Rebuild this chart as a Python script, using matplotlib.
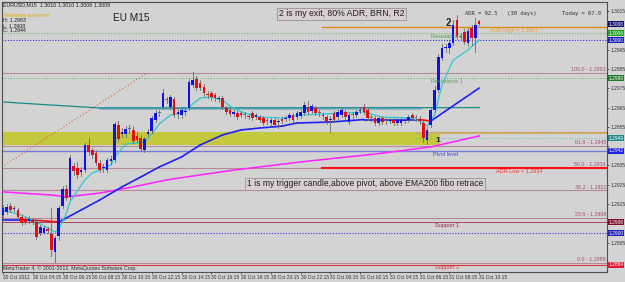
import matplotlib
matplotlib.use("Agg")
import matplotlib.pyplot as plt
from matplotlib.patches import Rectangle

# ---------------- data (EURUSD M15 candles) ----------------
open_ = [1.29093,1.29109,1.29140,1.29124,1.29119,1.29083,1.29073,1.29062,1.29067,1.29057,
         1.29000,1.29000,1.29021,1.28995,1.28902,1.28985,1.29140,1.29228,1.29187,1.29347,
         1.29337,1.29316,1.29326,1.29456,1.29430,1.29415,1.29363,1.29337,1.29326,1.29373,
         1.29378,1.29560,1.29513,1.29513,1.29539,1.29534,1.29503,1.29492,1.29430,1.29513,
         1.29528,1.29585,1.29622,1.29653,1.29689,1.29653,1.29694,1.29616,1.29611,1.29627,
         1.29648,1.29767,1.29798,1.29777,1.29756,1.29720,1.29725,1.29715,1.29694,1.29699,
         1.29648,1.29637,1.29616,1.29622,1.29622,1.29611,1.29606,1.29622,1.29601,1.29601,
         1.29596,1.29580,1.29570,1.29585,1.29575,1.29591,1.29591,1.29596,1.29611,1.29601,
         1.29606,1.29622,1.29653,1.29632,1.29648,1.29622,1.29611,1.29601,1.29585,1.29622,
         1.29601,1.29611,1.29627,1.29575,1.29611,1.29611,1.29632,1.29653,1.29637,1.29596,
         1.29596,1.29570,1.29596,1.29580,1.29580,1.29585,1.29570,1.29570,1.29580,1.29585,
         1.29611,1.29596,1.29591,1.29570,1.29482,1.29560,1.29637,1.29741,1.29907,1.29958,
         1.29958,1.29984,1.30103,1.30015,1.30041,1.29984,1.30062,1.30010,1.30100]
high = [1.29145,1.29150,1.29155,1.29140,1.29130,1.29093,1.29083,1.29088,1.29078,1.29067,
        1.29042,1.29036,1.29031,1.29130,1.28985,1.29140,1.29244,1.29249,1.29404,1.29363,
        1.29368,1.29342,1.29466,1.29492,1.29440,1.29430,1.29378,1.29358,1.29389,1.29399,
        1.29575,1.29580,1.29544,1.29554,1.29560,1.29554,1.29523,1.29508,1.29497,1.29539,
        1.29606,1.29637,1.29637,1.29746,1.29705,1.29715,1.29705,1.29637,1.29653,1.29648,
        1.29798,1.29834,1.29813,1.29793,1.29772,1.29736,1.29736,1.29725,1.29710,1.29710,
        1.29658,1.29648,1.29637,1.29632,1.29632,1.29627,1.29616,1.29632,1.29622,1.29611,
        1.29606,1.29596,1.29596,1.29596,1.29591,1.29601,1.29606,1.29622,1.29622,1.29632,
        1.29637,1.29679,1.29684,1.29668,1.29658,1.29637,1.29622,1.29611,1.29606,1.29632,
        1.29637,1.29648,1.29637,1.29622,1.29627,1.29637,1.29653,1.29668,1.29648,1.29611,
        1.29606,1.29606,1.29606,1.29596,1.29596,1.29596,1.29596,1.29596,1.29596,1.29611,
        1.29622,1.29611,1.29606,1.29585,1.29549,1.29653,1.29762,1.29927,1.29979,1.29979,
        1.30000,1.30103,1.30129,1.30036,1.30057,1.30062,1.30078,1.30114,1.30102]
low = [1.29083,1.29099,1.29109,1.29114,1.29073,1.29042,1.29047,1.29052,1.29047,1.28969,
       1.28990,1.28995,1.29000,1.28881,1.28850,1.28964,1.29130,1.29171,1.29176,1.29301,
       1.29285,1.29295,1.29316,1.29404,1.29389,1.29352,1.29316,1.29316,1.29316,1.29358,
       1.29368,1.29477,1.29497,1.29497,1.29518,1.29466,1.29471,1.29425,1.29420,1.29503,
       1.29518,1.29575,1.29606,1.29642,1.29673,1.29642,1.29601,1.29596,1.29596,1.29611,
       1.29637,1.29756,1.29741,1.29741,1.29710,1.29699,1.29689,1.29684,1.29679,1.29642,
       1.29616,1.29606,1.29606,1.29591,1.29601,1.29596,1.29591,1.29585,1.29591,1.29575,
       1.29560,1.29565,1.29560,1.29549,1.29544,1.29570,1.29580,1.29585,1.29575,1.29591,
       1.29596,1.29611,1.29616,1.29622,1.29611,1.29606,1.29591,1.29565,1.29523,1.29575,
       1.29591,1.29601,1.29591,1.29565,1.29596,1.29601,1.29622,1.29616,1.29585,1.29580,
       1.29560,1.29560,1.29565,1.29565,1.29570,1.29560,1.29560,1.29560,1.29570,1.29575,
       1.29585,1.29580,1.29565,1.29471,1.29461,1.29549,1.29627,1.29730,1.29896,1.29938,
       1.29932,1.29974,1.30005,1.30000,1.29979,1.29969,1.29974,1.29938,1.30080]
close = [1.29130,1.29135,1.29119,1.29130,1.29083,1.29052,1.29057,1.29073,1.29057,1.28979,
         1.29031,1.29026,1.29010,1.28912,1.28974,1.29130,1.29228,1.29181,1.29389,1.29321,
         1.29301,1.29326,1.29456,1.29420,1.29404,1.29363,1.29326,1.29342,1.29378,1.29383,
         1.29565,1.29487,1.29523,1.29539,1.29539,1.29477,1.29482,1.29435,1.29487,1.29523,
         1.29596,1.29622,1.29622,1.29725,1.29689,1.29705,1.29611,1.29627,1.29637,1.29632,
         1.29782,1.29793,1.29751,1.29751,1.29725,1.29715,1.29705,1.29699,1.29699,1.29653,
         1.29627,1.29616,1.29627,1.29601,1.29611,1.29611,1.29601,1.29596,1.29611,1.29585,
         1.29570,1.29580,1.29585,1.29560,1.29580,1.29580,1.29596,1.29611,1.29585,1.29622,
         1.29627,1.29663,1.29627,1.29658,1.29622,1.29622,1.29606,1.29575,1.29591,1.29585,
         1.29627,1.29637,1.29601,1.29611,1.29611,1.29627,1.29637,1.29627,1.29596,1.29596,
         1.29570,1.29596,1.29575,1.29580,1.29585,1.29570,1.29585,1.29585,1.29585,1.29601,
         1.29596,1.29596,1.29580,1.29492,1.29534,1.29637,1.29741,1.29912,1.29958,1.29964,
         1.29984,1.30078,1.30015,1.30015,1.29989,1.30046,1.30010,1.30078,1.30083]

# indicator lines, read at sample bars
fast_bars = [0,5,10,14,15,17,18,20,22,24,26,29,30,33,38,40,42,45,48,50,53,56,59,61,64,69,75,80,91,97,102,110,113,114,116,117,118,121,125,128]
fast_vals = [1.29119,1.29093,1.29047,1.29005,1.29021,1.29099,1.29161,1.29218,1.29275,1.29311,
             1.29326,1.29352,1.29394,1.29461,1.29471,1.29513,1.29565,1.29611,1.29622,1.29653,
             1.29699,1.29705,1.29689,1.29658,1.29627,1.29601,1.29596,1.29611,1.29622,1.29627,
             1.29601,1.29596,1.29570,1.29554,1.29611,1.29689,1.29767,1.29896,1.29948,1.30000]
ema_bars = [0,8,15,26,32,37,42,48,53,59,64,69,75,79,88,97,106,112,115,128]
ema_vals = [1.29067,1.29067,1.29057,1.29171,1.29239,1.29290,1.29342,1.29394,1.29456,1.29508,
            1.29534,1.29544,1.29554,1.29570,1.29575,1.29588,1.29588,1.29588,1.29580,1.29751]
ema200_bars = [0,13,17,26,35,44,53,62,71,80,90,100,115,128]
ema200_vals = [1.29213,1.29197,1.29187,1.29207,1.29239,1.29275,1.29301,1.29326,1.29347,1.29368,
               1.29389,1.29409,1.29446,1.29503]
slow_bars = [0,13,26,60,128]
slow_vals = [1.29679,1.29663,1.29648,1.29648,1.29650]

price_ticks = [1.3015,1.3005,1.2995,1.2985,1.2975,1.2965,1.2955,1.2945,1.2935,1.2925,1.2915,1.2905,1.2895,1.2885]
hidden_ticks = [1.3005, 1.2945, 1.2905, 1.2885]   # covered by the coloured price boxes
time_bars = [0,8,16,24,32,40,48,56,64,72,80,88,96,104,112,120,128]
time_labels = ["30 Oct 2012","30 Oct 04:15","30 Oct 06:15","30 Oct 08:15","30 Oct 10:15",
               "30 Oct 12:15","30 Oct 14:15","30 Oct 16:15","30 Oct 18:15","30 Oct 20:15",
               "30 Oct 22:15","31 Oct 00:15","31 Oct 02:15","31 Oct 04:15","31 Oct 06:15",
               "31 Oct 08:15","31 Oct 10:15"]

adr_high, adr_low = 1.30067, 1.29337
r2, r1, pivot, s1, s2 = 1.30036, 1.29803, 1.29425, 1.29057, 1.28835
brn_levels = [1.3000, 1.2900]
fib_pct = [100.0, 61.8, 50.0, 38.2, 23.6, 0.0]
fib_hi, fib_lo = 1.29829, 1.28845
fib_anchor_bars = [-40.3, 38.7]
zone_lo, zone_hi, zone_end = 1.29456, 1.29525, 117.5
zone_line, zone_dot = 1.29518, 1.29492
trend_level, trend_bars = 1.29650, [26, 112]

# ---------------- styling ----------------
BG = "#d3d3d3"
BULL, BEAR = "#1010e8", "#e01010"
MAUVE = "#b68a96"
FONT = "Liberation Sans"
plt.rcParams["font.family"] = [FONT, "DejaVu Sans"]

fig = plt.figure(figsize=(6.25, 2.82), dpi=100)
fig.patch.set_facecolor(BG)
ax = fig.add_axes([2/625, 10/282, 605/625, 270/282])
ax.set_facecolor(BG)
px = 3.72
ax.set_xlim(-1/px, 604/px)
y_top, y_bot = 1.30197, 1.28798
ax.set_ylim(y_bot, y_top)
for s in ax.spines.values():
    s.set_color("#505050"); s.set_linewidth(0.8)

def P(x, y):
    return x/625, 1 - y/282

# horizontal levels
xl = ax.get_xlim()
def hline(y, x0=None, **kw):
    ax.plot([xl[0] if x0 is None else x0, xl[1]], [y, y], **kw)

for pct in fib_pct:
    lv = fib_lo + (fib_hi - fib_lo) * pct / 100
    hline(lv, color=MAUVE, lw=0.8, zorder=1)
hline(adr_high, x0=85.8, color="#e08a10", lw=1.0, zorder=2)
hline(adr_low, x0=85.8, color="#ff1010", lw=1.5, zorder=2)
hline(r2, color="#6cb86c", lw=0.8, ls=(0, (1, 1.5)), zorder=2)
hline(r1, color="#6cb86c", lw=0.8, ls=(0, (1, 1.5)), zorder=2)
for b in brn_levels:
    hline(b, color="#3030e0", lw=0.8, ls=(0, (1, 1.5)), zorder=2)
hline(pivot, color="#7878d8", lw=1.0, zorder=2)
hline(s1, color="#a03048", lw=0.6, zorder=2)
hline(s2, color="#e03040", lw=0.8, zorder=2)
hline(zone_line, x0=111, color="#c8b27c", lw=1.6, zorder=2)
hline(zone_line + 0.00005, x0=111, color="#e08a10", lw=0.7, ls=(0, (1, 2)), zorder=2)
hline(zone_dot, x0=111, color="#60c8c8", lw=0.7, ls=(0, (1, 1.5)), zorder=2)

# yellow zone
ax.add_patch(Rectangle((xl[0], zone_lo), zone_end - xl[0], zone_hi - zone_lo,
                       facecolor="#c3c83c", edgecolor="none", zorder=1.5))
# horizontal trendline
ax.plot(trend_bars, [trend_level]*2, color="#8fb4cc", lw=2.2, zorder=2)
# fibo diagonal
ax.plot(fib_anchor_bars, [fib_lo, fib_hi], color="#e06040", lw=0.8, ls=(0, (1, 2)), zorder=2)

# indicator lines
ax.plot(slow_bars, slow_vals, color="#1a8a8a", lw=0.9, zorder=3)
ax.plot(ema200_bars, ema200_vals, color="#ff20ff", lw=1.1, zorder=3)
for k in range(len(ema_bars) - 1):
    c = BEAR if ema_vals[k+1] < ema_vals[k] else "#2020f0"
    ax.plot(ema_bars[k:k+2], ema_vals[k:k+2], color=c, lw=1.2, zorder=3, solid_capstyle="round")
ax.plot(fast_bars, fast_vals, color="#30c8d0", lw=0.9, zorder=4)

# candles
for i, (o, h, l, c) in enumerate(zip(open_, high, low, close)):
    ax.plot([i, i], [l, h], color="#6a6a6a", lw=0.6, zorder=5)
    col = BULL if c > o else (BEAR if c < o else "#6a6a6a")
    body = max(abs(c - o), 0.00004)
    ax.add_patch(Rectangle((i - 0.36, min(o, c)), 0.72, body, facecolor=col,
                           edgecolor="none", zorder=6))

# price axis
FS_AX = 3.5
ax.yaxis.tick_right()
ax.set_yticks(price_ticks)
ax.set_yticklabels(["" if t in hidden_ticks else f"{t:.4f}" for t in price_ticks],
                   fontsize=FS_AX, color="#303030")
ax.tick_params(axis="y", length=1.5, width=0.5, pad=0.8, colors="#303030")
ax.set_xticks(time_bars)
ax.set_xticklabels(time_labels, fontsize=FS_AX, color="#303030", ha="left")
ax.tick_params(axis="x", length=1.5, width=0.5, pad=0.8, colors="#303030")

boxes = [(close[-1], "#101070"), (r2, "#22a022"), (1.3000, "#2020b8"), (r1, "#1f7a2a"),
         (zone_dot, "#208888"), (pivot, "#2020e0"), (s1, "#801028"), (1.2900, "#2020b8"),
         (s2, "#e01838")]
for lv, col in boxes:
    ax.text(1.0025, lv, f"{lv:.4f}", transform=ax.get_yaxis_transform(), fontsize=FS_AX,
            color="white", va="center", ha="left",
            bbox=dict(boxstyle="square,pad=0.12", fc=col, ec="none"), zorder=10, clip_on=False)

# fibo labels
for pct in fib_pct:
    lv = fib_lo + (fib_hi - fib_lo) * pct / 100
    ax.text(603/px, lv + 0.00004, f"{pct:.1f} - {lv:.4f}", fontsize=3.8, color="#a05070",
            ha="right", va="bottom", zorder=7)

# level labels
FS_L = 4.0
ax.text(115, r2 - 0.00004, "Resistance 2", fontsize=FS_L, color="#4fa04f", va="top", zorder=7)
ax.text(115, r1 - 0.00004, "Resistance 1", fontsize=FS_L, color="#4fa04f", va="top", zorder=7)
ax.text(115.5, pivot - 0.00004, "Pivot level", fontsize=FS_L, color="#4848d8", va="top", zorder=7)
ax.text(116, s1 - 0.00004, "Support 1", fontsize=FS_L, color="#a02040", va="top", zorder=7)
ax.text(116, s2 - 0.00003, "Support 2", fontsize=FS_L, color="#e03040", va="top", zorder=7)
ax.text(131, adr_high - 0.00004, f"ADR High = {adr_high:.4f}", fontsize=FS_L, color="#e0a040", va="top", zorder=7)
ax.text(132.5, adr_low - 0.00004, f"ADR Low = {adr_low:.4f}", fontsize=FS_L, color="#ff3030", va="top", zorder=7)

# annotations
fig.text(*P(3, 5), "EURUSD,M15  1.3010 1.3010 1.3008 1.3008", fontsize=3.8, color="#202020", va="center")
fig.text(*P(3, 15), "Yesterday extremes", fontsize=3.8, color="#e0b000", va="center")
fig.text(*P(3, 20), "H: 1.2983", fontsize=3.8, color="#202020", va="center")
fig.text(*P(3, 26), "L: 1.2908", fontsize=3.8, color="#202020", va="center")
fig.text(*P(3, 31), "C: 1.2944", fontsize=3.8, color="#202020", va="center")
fig.text(*P(113, 18), "EU M15", fontsize=7.2, color="#202020", va="center")
fig.text(*P(279, 14), "2 is my exit, 80% ADR, BRN, R2", fontsize=6.3, color="#202020", va="center",
         bbox=dict(boxstyle="square,pad=0.2", fc="#d8d0d0", ec="#a09090", lw=0.6))
fig.text(*P(465, 14), "ADR = 92.5   (30 days)", fontsize=4.0, color="#303030", va="center", family="DejaVu Sans Mono")
fig.text(*P(562, 14), "Today = 67.0", fontsize=4.0, color="#303030", va="center", family="DejaVu Sans Mono")
fig.text(*P(446, 23), "2", fontsize=7, color="#202020", va="center", weight="bold")
fig.text(*P(435, 140), "1", fontsize=6, color="#202020", va="center", weight="bold")
fig.text(*P(247, 184), "1 is my trigger candle,above pivot, above EMA200 fibo retrace", fontsize=6.15,
         color="#202020", va="center",
         bbox=dict(boxstyle="square,pad=0.2", fc="#d8d0d0", ec="#a09090", lw=0.6))
fig.text(*P(3, 268), "MetaTrader 4, \u00a9 2001-2012, MetaQuotes Software Corp.", fontsize=3.8,
         color="#303030", va="center")

fig.savefig("out.png", dpi=100, facecolor=BG)
